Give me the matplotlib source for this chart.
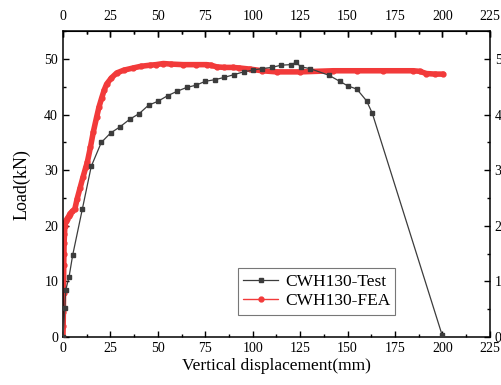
import matplotlib
matplotlib.use("Agg")
import matplotlib.pyplot as plt
from matplotlib.ticker import MultipleLocator

# CWH130 test
test_x = [0, 1.0, 1.4, 3.2, 5.1, 10.2, 14.9, 20.2, 25.1, 30.0, 35.3, 40.2, 45.1, 50.0,
          55.1, 60.1, 65.2, 70.1, 75.0, 80.1, 85.0, 90.1, 95.2, 100.0, 105.0, 110.0,
          114.9, 120.0, 122.9, 125.4, 130.1, 140.1, 145.9, 150.0, 154.9, 160.0, 163.0, 199.9]
test_y = [0, 5.3, 8.4, 10.8, 14.7, 23.0, 30.7, 35.0, 36.7, 37.8, 39.2, 40.2, 41.7, 42.4,
          43.4, 44.2, 44.9, 45.3, 46.0, 46.3, 46.7, 47.2, 47.7, 48.0, 48.3, 48.5,
          48.9, 49.0, 49.4, 48.6, 48.3, 47.1, 46.0, 45.2, 44.6, 42.5, 40.3, 0.3]

# CWH130 FEA
fea_x = [0, 0.1, 0.2, 0.3, 0.4, 0.5, 0.6, 0.8, 1.0, 1.5, 2.2, 3.0, 3.7, 5.0, 6.3, 7.5,
         9.0, 10.5, 12.0, 12.8, 14.5, 16.0, 17.7, 19.0, 20.4, 21.7, 23.0, 25.5, 28.3,
         32.0, 37.0, 41.0, 45.8, 49.0, 52.9, 57.0, 63.4, 70.0, 75.7, 78.0, 81.0, 85.0,
         89.6, 93.0, 98.5, 105.0, 112.6, 125.0, 142.4, 155.0, 168.7, 184.6, 188.0,
         191.6, 196.0, 200.4]
fea_y = [0, 2.0, 4.5, 8.0, 13.0, 15.0, 17.0, 18.5, 20.0, 20.8, 21.3, 21.7, 22.2, 22.6,
         23.1, 24.9, 26.8, 28.7, 30.5, 31.4, 34.2, 36.9, 39.5, 41.4, 43.0, 44.4, 45.5,
         46.6, 47.5, 48.0, 48.4, 48.7, 48.9, 49.0, 49.2, 49.1, 49.0, 49.0, 49.0, 48.9,
         48.6, 48.5, 48.5, 48.4, 48.2, 47.9, 47.7, 47.7, 47.9, 47.9, 47.9, 47.9, 47.8,
         47.4, 47.3, 47.3]

plt.rcParams["font.family"] = ["Liberation Serif", "DejaVu Serif"]

fig = plt.figure(figsize=(5.01, 3.85), dpi=100)
ax = fig.add_axes([0.1257, 0.1247, 0.852, 0.794])

ax.plot(fea_x, fea_y, color="#f23a3a", lw=4.0, marker="o", ms=3.5,
        solid_capstyle="round", label="CWH130-FEA", zorder=2)
ax.plot(test_x, test_y, color="#3c3c3c", lw=0.9, marker="s", ms=3.5,
        label="CWH130-Test", zorder=3)

ax.set_xlim(0, 225)
ax.set_ylim(0, 55)
ax.xaxis.set_major_locator(MultipleLocator(25))
ax.xaxis.set_minor_locator(MultipleLocator(12.5))
ax.yaxis.set_major_locator(MultipleLocator(10))
ax.yaxis.set_minor_locator(MultipleLocator(5))
ax.tick_params(which="both", direction="in", top=True, right=True,
               labelright=True, labelsize=10, width=1.0)
ax.tick_params(which="major", length=4)
ax.tick_params(which="minor", length=2.5)
for s in ax.spines.values():
    s.set_linewidth(1.1)

# top labels sit a bit further from the frame than the bottom ones
top = ax.secondary_xaxis("top")
top.xaxis.set_major_locator(MultipleLocator(25))
top.xaxis.set_minor_locator(MultipleLocator(12.5))
top.tick_params(which="both", direction="in", labelsize=10, width=1.0, pad=6)
top.tick_params(which="major", length=4)
top.tick_params(which="minor", length=2.5)

ax.set_xlabel("Vertical displacement(mm)", fontsize=12.5, labelpad=2)
ax.set_ylabel("Load(kN)", fontsize=13, labelpad=10)

h, l = ax.get_legend_handles_labels()
leg = ax.legend(h[::-1], l[::-1], loc="lower left", bbox_to_anchor=(0.39, 0.045),
                fontsize=12.5, frameon=True, fancybox=False, edgecolor="#555555",
                handlelength=2.0, borderpad=0.3, labelspacing=0.2, handletextpad=0.4)
leg.get_frame().set_linewidth(0.8)
leg.get_lines()[1].set_linewidth(1.0)

fig.savefig("out.png", dpi=100)
